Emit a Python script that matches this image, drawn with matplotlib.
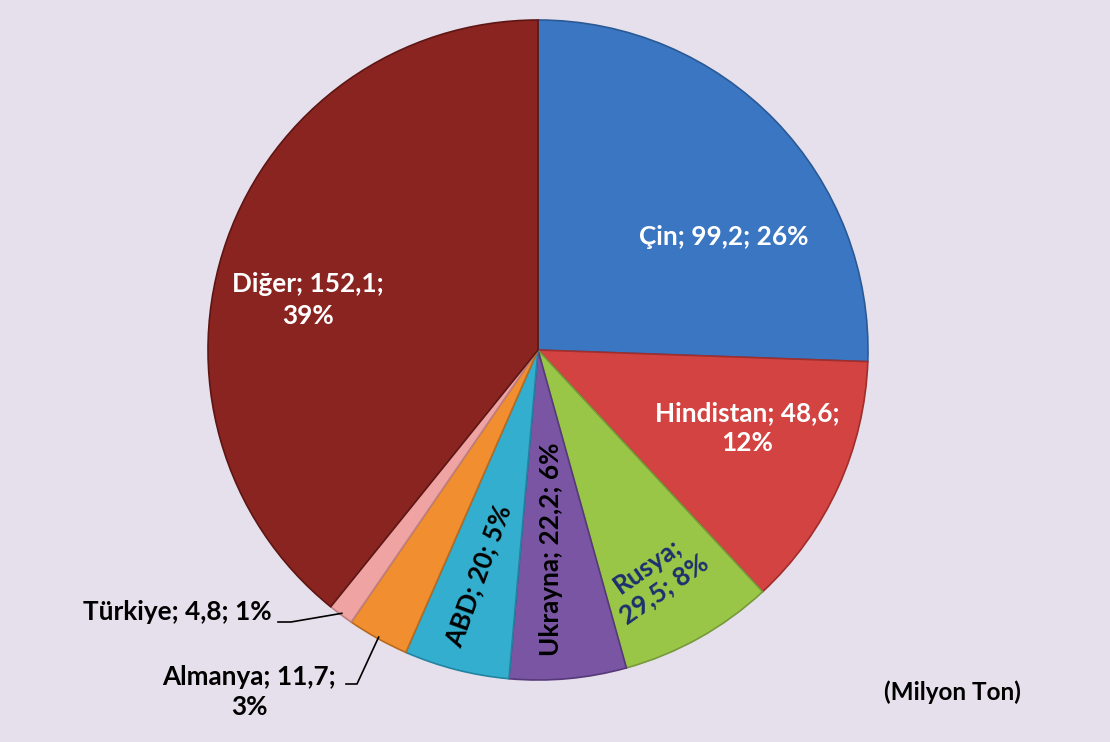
import numpy as np
import matplotlib.pyplot as plt

# data (Milyon Ton)
countries = ["Çin", "Hindistan", "Rusya", "Ukrayna", "ABD", "Almanya", "Türkiye", "Diğer"]
values = [99.2, 48.6, 29.5, 22.2, 20, 11.7, 4.8, 152.1]
percents = ["26%", "12%", "8%", "6%", "5%", "3%", "1%", "39%"]

colors = ["#3B76C2", "#D24341", "#9AC648", "#7A55A3", "#34AECE", "#F18E30", "#EFA3A3", "#8A2421"]
edges = ["#2A5A96", "#A02E2C", "#76993A", "#57397A", "#2383A0", "#B86A1E", "#C07F7F", "#5E1614"]

BG = "#E6E0EC"
W, H = 1110, 742
CX, CY, R = 538, 350, 330  # pie centre / radius in pixels


def fmt(v):
    s = ("%g" % v).replace(".", ",")
    return s


fig = plt.figure(figsize=(W / 100, H / 100), dpi=100)
fig.patch.set_facecolor(BG)
ax = fig.add_axes([(CX - R) / W, (H - CY - R) / H, 2 * R / W, 2 * R / H])

wedges, _ = ax.pie(values, colors=colors, startangle=90, counterclock=False, radius=1,
                   wedgeprops=dict(linewidth=1.2))
for w, ec in zip(wedges, edges):
    w.set_edgecolor(ec)
# pie() resets the limits, so set them afterwards
ax.set_xlim(-1, 1)
ax.set_ylim(-1, 1)
ax.set_aspect("equal")
ax.axis("off")


def px(x, y):
    # pixel position -> data coords of the pie axes
    return (x - CX) / R, (CY - y) / R


def mid_point(w, r=1.0):
    a = np.deg2rad((w.theta1 + w.theta2) / 2)
    return r * np.cos(a), r * np.sin(a)


font = dict(family=["Lato", "DejaVu Sans"], fontweight="bold", fontsize=18.8)

labels = [f"{c}; {fmt(v)}; {p}" for c, v, p in zip(countries, values, percents)]

# label positions (pixels), rotations, colours, line breaks
ax.text(*px(724, 237), labels[0], color="white", ha="center", va="center", **font)
ax.text(*px(747, 428), "Hindistan; 48,6;\n12%", color="white", ha="center", va="center",
        linespacing=1.3, **font)
ax.text(*px(656, 578), "Rusya;\n29,5; 8%", color="#1B2F6E", ha="center", va="center",
        rotation=35, linespacing=1.2, **font)
ax.text(*px(551, 549), labels[3], color="black", ha="center", va="center", rotation=90, **font)
ax.text(*px(479, 576), labels[4], color="black", ha="center", va="center", rotation=70, **font)
ax.text(*px(308, 300), "Diğer; 152,1;\n39%", color="white", ha="center", va="center",
        linespacing=1.4, **font)

# outside labels with leader lines
tx, ty = px(272, 612)
ax.text(tx, ty, labels[6], color="black", ha="right", va="center", **font)
ex, ey = mid_point(wedges[6], 0.995)
x1, y1 = px(278, 622)
x2, y2 = px(291, 622)
ax.plot([x1, x2, ex], [y1, y2, ey], color="black", lw=1.2, clip_on=False)

ax.text(*px(249, 692), "Almanya; 11,7;\n3%", color="black", ha="center", va="center",
        linespacing=1.3, **font)
ex, ey = mid_point(wedges[5], 0.995)
x1, y1 = px(346, 684)
x2, y2 = px(357, 684)
ax.plot([x1, x2, ex], [y1, y2, ey], color="black", lw=1.2, clip_on=False)

fig.text(952 / W, 1 - 692 / H, "(Milyon Ton)", ha="center", va="center",
         family=["Lato", "DejaVu Sans"], fontweight="bold", fontsize=17.5)

fig.savefig("out.png", dpi=100, facecolor=BG)
